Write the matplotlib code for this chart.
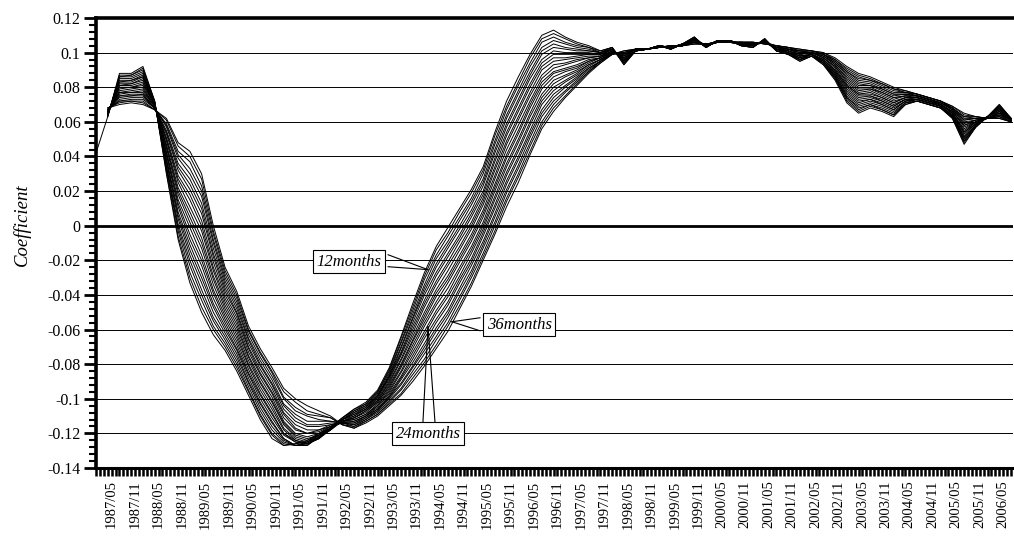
import numpy as np
import matplotlib
matplotlib.use("Agg")
import matplotlib.pyplot as plt
from matplotlib.ticker import MultipleLocator, FixedLocator

plt.rcParams['font.family'] = ['Liberation Serif', 'DejaVu Serif']

# month index counted from 1987/01, one sample every 3 months (1987/01 .. 2006/07)
months = list(range(0, 235, 3))

# rolling coefficients (x 1/1000) for estimation windows of 12..36 months
s12 = [42, 63, 88, 88, 92, 72, 30, -8, -33, -50,
       -63, -72, -84, -98, -112, -123, -127, -126, -124, -120,
       -116, -111, -106, -102, -95, -82, -64, -45, -27, -12,
       -1, 10, 21, 34, 54, 72, 86, 99, 110, 113,
       109, 106, 104, 101, 103, 93, 101, 102, 104, 102,
       105, 109, 103, 107, 107, 104, 103, 108, 101, 99,
       95, 98, 93, 84, 71, 65, 68, 66, 63, 70,
       72, 70, 68, 62, 47, 57, 63, 70, 62]
s13 = [None, 63, 87, 87, 91, 72, 31, -6, -30, -47,
       -60, -70, -82, -96, -110, -121, -127, -126, -125, -120,
       -117, -111, -106, -103, -96, -83, -65, -47, -29, -14,
       -4, 8, 19, 32, 52, 69, 83, 97, 108, 111,
       108, 105, 103, 101, 103, 93, 101, 102, 104, 102,
       105, 109, 103, 107, 107, 104, 103, 108, 101, 99,
       95, 98, 93, 85, 72, 66, 69, 67, 64, 70,
       72, 70, 68, 62, 48, 57, 63, 70, 62]
s14 = [None, 63, 86, 87, 90, 72, 33, -3, -27, -43,
       -58, -68, -80, -95, -109, -120, -126, -127, -125, -121,
       -117, -111, -107, -103, -96, -84, -67, -49, -31, -17,
       -6, 5, 16, 30, 49, 67, 81, 94, 106, 109,
       106, 104, 103, 100, 103, 94, 101, 102, 104, 102,
       105, 109, 103, 107, 107, 104, 103, 108, 101, 99,
       96, 98, 94, 85, 73, 67, 70, 67, 64, 71,
       72, 70, 68, 63, 49, 57, 63, 69, 62]
s15 = [None, 64, 86, 86, 89, 71, 34, -1, -23, -40,
       -55, -66, -78, -93, -107, -118, -125, -127, -126, -121,
       -117, -112, -107, -104, -97, -85, -68, -51, -34, -19,
       -9, 3, 14, 27, 47, 64, 78, 92, 103, 107,
       105, 103, 102, 100, 103, 94, 101, 102, 104, 102,
       105, 108, 103, 107, 107, 104, 103, 108, 101, 99,
       96, 98, 94, 86, 74, 68, 70, 68, 65, 71,
       72, 70, 68, 63, 49, 58, 63, 69, 62]
s16 = [None, 64, 85, 85, 88, 71, 35, 1, -20, -37,
       -53, -64, -76, -91, -105, -116, -124, -127, -127, -122,
       -117, -112, -108, -104, -98, -86, -70, -53, -36, -22,
       -11, 0, 12, 25, 44, 62, 76, 89, 101, 105,
       103, 102, 101, 100, 102, 94, 101, 102, 104, 102,
       105, 108, 103, 107, 107, 104, 104, 107, 101, 100,
       96, 99, 94, 86, 74, 69, 71, 69, 66, 71,
       73, 71, 69, 63, 50, 58, 63, 69, 62]
s17 = [None, 64, 84, 84, 87, 71, 37, 4, -17, -33,
       -50, -62, -74, -90, -103, -114, -123, -127, -127, -122,
       -118, -112, -108, -105, -98, -87, -71, -54, -38, -24,
       -13, -2, 9, 23, 42, 59, 73, 87, 99, 103,
       102, 101, 101, 100, 102, 95, 101, 102, 104, 102,
       105, 108, 103, 107, 107, 104, 104, 107, 102, 100,
       96, 99, 94, 87, 75, 70, 72, 70, 67, 72,
       73, 71, 69, 63, 51, 58, 63, 68, 62]
s18 = [None, 64, 83, 84, 86, 71, 38, 6, -14, -30,
       -47, -60, -72, -88, -102, -113, -123, -127, -126, -123,
       -117, -112, -109, -105, -99, -87, -73, -56, -40, -27,
       -16, -5, 7, 20, 39, 57, 71, 85, 96, 101,
       100, 100, 100, 99, 102, 95, 101, 102, 104, 103,
       105, 108, 103, 107, 107, 105, 104, 107, 102, 100,
       97, 99, 95, 87, 76, 71, 73, 70, 67, 72,
       73, 71, 69, 64, 51, 58, 63, 68, 61]
s19 = [None, 64, 83, 83, 86, 71, 39, 8, -11, -27,
       -45, -58, -71, -86, -100, -111, -121, -125, -126, -123,
       -117, -112, -109, -106, -99, -88, -74, -58, -43, -29,
       -18, -7, 5, 18, 37, 54, 68, 82, 94, 99,
       99, 99, 99, 99, 102, 95, 101, 102, 104, 103,
       105, 108, 104, 107, 107, 105, 104, 107, 102, 100,
       97, 99, 95, 88, 77, 72, 73, 71, 68, 72,
       73, 71, 69, 64, 52, 59, 63, 68, 61]
s20 = [None, 65, 82, 82, 85, 70, 41, 11, -8, -23,
       -42, -56, -69, -85, -98, -109, -120, -125, -126, -123,
       -118, -112, -110, -106, -100, -89, -75, -60, -45, -32,
       -21, -9, 2, 16, 34, 52, 66, 80, 92, 97,
       97, 98, 99, 99, 102, 96, 101, 102, 104, 103,
       105, 108, 104, 107, 107, 105, 104, 107, 102, 100,
       97, 99, 95, 88, 78, 73, 74, 72, 69, 73,
       73, 71, 69, 64, 53, 59, 63, 67, 61]
s21 = [None, 65, 81, 82, 84, 70, 42, 13, -5, -20,
       -39, -54, -67, -83, -97, -108, -120, -124, -126, -122,
       -118, -113, -110, -106, -101, -90, -77, -62, -47, -34,
       -23, -12, 0, 14, 32, 49, 63, 77, 90, 95,
       96, 97, 98, 98, 102, 96, 101, 102, 104, 103,
       105, 107, 104, 107, 107, 105, 104, 107, 102, 100,
       98, 99, 96, 89, 79, 74, 75, 72, 69, 73,
       73, 71, 70, 65, 54, 59, 63, 67, 61]
s22 = [None, 65, 81, 81, 83, 70, 43, 15, -1, -17,
       -37, -52, -65, -81, -95, -106, -118, -124, -126, -123,
       -117, -113, -111, -107, -101, -91, -78, -64, -50, -37,
       -26, -14, -2, 12, 29, 47, 61, 75, 87, 93,
       94, 96, 97, 98, 101, 96, 101, 102, 104, 103,
       105, 107, 104, 107, 107, 105, 104, 107, 102, 101,
       98, 99, 96, 89, 80, 75, 75, 73, 70, 73,
       74, 72, 70, 65, 54, 60, 63, 67, 61]
s23 = [None, 65, 80, 80, 82, 70, 45, 18, 2, -13,
       -34, -50, -63, -80, -93, -104, -117, -123, -125, -122,
       -117, -113, -111, -107, -102, -92, -80, -66, -52, -39,
       -29, -17, -5, 9, 27, 44, 58, 72, 85, 91,
       93, 95, 97, 98, 101, 97, 101, 102, 104, 103,
       105, 107, 104, 107, 107, 105, 104, 107, 102, 101,
       98, 99, 96, 90, 81, 76, 76, 74, 71, 74,
       74, 72, 70, 65, 55, 60, 63, 66, 61]
s24 = [None, 66, 79, 80, 81, 70, 46, 20, 5, -10,
       -31, -48, -61, -78, -91, -102, -115, -122, -124, -121,
       -117, -113, -111, -108, -102, -93, -81, -67, -54, -41,
       -31, -19, -7, 7, 24, 41, 55, 70, 83, 89,
       91, 93, 96, 97, 101, 97, 101, 102, 103, 103,
       104, 107, 104, 106, 106, 105, 104, 106, 102, 101,
       98, 99, 96, 90, 81, 76, 77, 74, 71, 74,
       74, 72, 70, 65, 56, 60, 62, 66, 61]
s25 = [None, 66, 78, 79, 80, 69, 47, 22, 8, -7,
       -29, -46, -59, -76, -90, -101, -114, -121, -123, -121,
       -117, -113, -112, -109, -103, -94, -82, -69, -56, -44,
       -33, -21, -9, 5, 22, 39, 53, 68, 81, 88,
       90, 92, 95, 97, 101, 97, 102, 102, 103, 103,
       104, 107, 104, 106, 106, 105, 105, 106, 103, 101,
       99, 100, 97, 91, 82, 77, 78, 75, 72, 74,
       74, 72, 70, 66, 57, 60, 62, 66, 61]
s26 = [None, 66, 77, 78, 79, 69, 49, 25, 11, -3,
       -26, -44, -57, -75, -88, -99, -113, -120, -122, -120,
       -117, -113, -112, -109, -104, -95, -84, -71, -58, -46,
       -36, -24, -12, 2, 20, 36, 50, 65, 79, 86,
       89, 91, 95, 97, 101, 98, 102, 102, 103, 103,
       104, 107, 104, 106, 106, 105, 105, 106, 103, 101,
       99, 100, 97, 92, 83, 78, 79, 76, 73, 75,
       74, 72, 70, 66, 58, 60, 62, 65, 61]
s27 = [None, 66, 77, 77, 78, 69, 50, 27, 15, 0,
       -24, -42, -55, -73, -86, -97, -111, -118, -120, -119,
       -116, -113, -113, -110, -104, -96, -85, -73, -61, -49,
       -39, -26, -14, 0, 17, 34, 48, 63, 76, 84,
       87, 90, 94, 97, 100, 98, 102, 102, 103, 103,
       104, 107, 104, 106, 106, 105, 105, 106, 103, 102,
       99, 100, 97, 92, 84, 79, 79, 77, 74, 75,
       75, 73, 70, 66, 58, 61, 62, 65, 61]
s28 = [None, 66, 76, 77, 77, 69, 51, 29, 18, 3,
       -21, -40, -53, -71, -85, -96, -109, -117, -120, -118,
       -116, -114, -113, -110, -105, -97, -87, -75, -63, -51,
       -41, -29, -16, -2, 15, 31, 45, 60, 74, 82,
       86, 89, 93, 96, 100, 98, 102, 102, 103, 103,
       104, 106, 104, 106, 106, 105, 105, 106, 103, 102,
       100, 100, 98, 93, 85, 80, 80, 77, 74, 75,
       75, 73, 71, 67, 59, 61, 62, 65, 61]
s29 = [None, 67, 75, 76, 76, 68, 53, 32, 21, 7,
       -18, -38, -51, -70, -83, -94, -108, -115, -118, -118,
       -115, -114, -114, -110, -106, -98, -88, -77, -65, -54,
       -44, -31, -19, -4, 12, 29, 43, 58, 72, 80,
       84, 88, 93, 96, 100, 99, 102, 102, 103, 103,
       104, 106, 104, 106, 106, 105, 105, 106, 103, 102,
       100, 100, 98, 93, 86, 81, 81, 78, 75, 76,
       75, 73, 71, 67, 60, 61, 62, 64, 61]
s30 = [None, 67, 75, 75, 76, 68, 54, 34, 24, 10,
       -16, -36, -50, -68, -81, -92, -106, -113, -116, -116,
       -115, -114, -114, -111, -106, -99, -89, -79, -68, -56,
       -46, -33, -21, -6, 10, 26, 40, 55, 70, 78,
       83, 87, 92, 96, 100, 99, 102, 102, 103, 103,
       104, 106, 105, 106, 106, 105, 105, 106, 103, 102,
       100, 100, 98, 94, 87, 82, 81, 79, 76, 76,
       75, 73, 71, 67, 61, 62, 62, 64, 61]
s31 = [None, 67, 74, 75, 75, 68, 55, 36, 27, 13,
       -13, -34, -48, -66, -80, -91, -104, -111, -115, -115,
       -114, -114, -115, -111, -107, -99, -91, -81, -70, -59,
       -49, -36, -23, -9, 7, 24, 38, 53, 67, 76,
       81, 86, 91, 95, 100, 99, 102, 102, 103, 104,
       104, 106, 105, 106, 106, 106, 105, 106, 103, 102,
       101, 100, 99, 94, 88, 83, 82, 79, 76, 76,
       75, 73, 71, 68, 61, 62, 62, 64, 60]
s32 = [None, 67, 73, 74, 74, 68, 57, 39, 30, 17,
       -10, -32, -46, -65, -78, -89, -103, -109, -113, -113,
       -113, -114, -115, -112, -107, -100, -92, -82, -72, -61,
       -51, -38, -26, -11, 5, 21, 35, 51, 65, 74,
       80, 85, 91, 95, 100, 100, 102, 102, 103, 104,
       104, 106, 105, 106, 106, 106, 105, 106, 104, 102,
       101, 100, 99, 95, 89, 84, 83, 80, 77, 77,
       75, 73, 71, 68, 62, 62, 62, 63, 60]
s33 = [None, 67, 72, 73, 73, 68, 58, 41, 33, 20,
       -8, -30, -44, -63, -76, -87, -100, -107, -110, -112,
       -113, -114, -116, -112, -108, -101, -94, -84, -74, -64,
       -53, -41, -28, -13, 2, 19, 33, 48, 63, 72,
       78, 84, 90, 95, 99, 100, 102, 102, 103, 104,
       104, 106, 105, 106, 106, 106, 106, 105, 104, 103,
       101, 101, 99, 95, 89, 85, 84, 81, 78, 77,
       76, 74, 72, 68, 63, 62, 62, 63, 60]
s34 = [None, 68, 72, 72, 72, 67, 59, 43, 37, 23,
       -5, -28, -42, -61, -74, -85, -99, -105, -109, -110,
       -111, -115, -116, -113, -109, -102, -95, -86, -77, -66,
       -56, -43, -30, -16, 0, 16, 30, 46, 60, 70,
       77, 83, 89, 95, 99, 100, 102, 102, 103, 104,
       104, 105, 105, 106, 106, 106, 106, 105, 104, 103,
       101, 101, 99, 96, 90, 86, 84, 82, 79, 77,
       76, 74, 72, 68, 63, 63, 62, 63, 60]
s35 = [None, 68, 71, 72, 71, 67, 61, 46, 40, 27,
       -3, -26, -40, -60, -73, -84, -96, -102, -107, -109,
       -111, -115, -117, -113, -109, -103, -97, -88, -79, -69,
       -58, -46, -33, -18, -3, 14, 28, 43, 58, 68,
       75, 82, 89, 94, 99, 101, 102, 102, 103, 104,
       104, 105, 105, 106, 106, 106, 106, 105, 104, 103,
       102, 101, 100, 96, 91, 87, 85, 82, 79, 78,
       76, 74, 72, 69, 64, 63, 62, 62, 60]
s36 = [None, 68, 70, 71, 70, 67, 62, 48, 43, 30,
       0, -24, -38, -58, -71, -82, -94, -100, -104, -107,
       -110, -115, -117, -114, -110, -104, -98, -90, -81, -71,
       -61, -48, -35, -20, -5, 11, 25, 41, 56, 66,
       74, 81, 88, 94, 99, 101, 102, 102, 103, 104,
       104, 105, 105, 106, 106, 106, 106, 105, 104, 103,
       102, 101, 100, 97, 92, 88, 86, 83, 80, 78,
       76, 74, 72, 69, 65, 63, 62, 62, 60]

windows = [12, 13, 14, 15, 16, 17, 18, 19, 20, 21, 22, 23, 24,
           25, 26, 27, 28, 29, 30, 31, 32, 33, 34, 35, 36]
series = [s12, s13, s14, s15, s16, s17, s18, s19, s20, s21, s22, s23, s24,
          s25, s26, s27, s28, s29, s30, s31, s32, s33, s34, s35, s36]

x_tick_labels = ['1987/05', '1987/11', '1988/05', '1988/11', '1989/05', '1989/11',
                 '1990/05', '1990/11', '1991/05', '1991/11', '1992/05', '1992/11',
                 '1993/05', '1993/11', '1994/05', '1994/11', '1995/05', '1995/11',
                 '1996/05', '1996/11', '1997/05', '1997/11', '1998/05', '1998/11',
                 '1999/05', '1999/11', '2000/05', '2000/11', '2001/05', '2001/11',
                 '2002/05', '2002/11', '2003/05', '2003/11', '2004/05', '2004/11',
                 '2005/05', '2005/11', '2006/05']
x_tick_months = list(range(4, 233, 6))

y_ticks = [-0.14, -0.12, -0.10, -0.08, -0.06, -0.04, -0.02, 0.0,
           0.02, 0.04, 0.06, 0.08, 0.10, 0.12]
y_tick_labels = ['-0.14', '-0.12', '-0.1', '-0.08', '-0.06', '-0.04', '-0.02', '0',
                 '0.02', '0.04', '0.06', '0.08', '0.1', '0.12']

W, H = 1014, 543
fig = plt.figure(figsize=(W / 100, H / 100), dpi=100)
ax = fig.add_axes([96 / W, 75 / H, 917 / W, 450 / H])

for w, s in zip(windows, series):
    assert len(s) == len(months), (w, len(s))
    y = np.array(s, dtype=float) / 1000.0
    ax.plot(months, y, color='black', lw=0.7, zorder=3)

ax.set_xlim(0, 234.5)
ax.set_ylim(-0.14, 0.12)

# gridlines
for v in y_ticks[1:-1]:
    if v == 0.0:
        ax.axhline(v, color='black', lw=2.0, zorder=4)
    else:
        ax.axhline(v, color='black', lw=0.7, zorder=1)

ax.spines['right'].set_visible(False)
ax.spines['left'].set_linewidth(2.6)
ax.spines['top'].set_linewidth(2.6)
ax.spines['bottom'].set_linewidth(2.2)

ax.set_yticks(y_ticks)
ax.set_yticklabels(y_tick_labels)
ax.yaxis.set_minor_locator(MultipleLocator(0.004))
ax.tick_params(axis='y', which='major', direction='out', length=9, width=2,
               labelsize=11.5, pad=2)
ax.tick_params(axis='y', which='minor', direction='out', length=5, width=1.5)

ax.set_xticks(x_tick_months)
ax.set_xticklabels(x_tick_labels, rotation=90, fontsize=10.5)
ax.xaxis.set_minor_locator(FixedLocator(list(range(0, 235, 1))))
ax.tick_params(axis='x', which='major', direction='out', length=6, width=1.8, pad=3)
ax.tick_params(axis='x', which='minor', direction='out', length=6, width=1.8)

fig.text(22 / W, 1 - 225 / H, 'Coefficient', rotation=90, style='italic',
         fontsize=13.5, ha='center', va='center')

def callout(text, center, anchors, target):
    for a in anchors:
        ax.plot([a[0], target[0]], [a[1], target[1]], color='black', lw=0.8, zorder=6)
    ax.text(center[0], center[1], text, style='italic', fontsize=12,
            ha='center', va='center', zorder=7,
            bbox=dict(boxstyle='square,pad=0.22', fc='white', ec='black', lw=0.8))

callout('12months', (64.7, -0.0208), [(74.7, -0.0168), (74.7, -0.0237)], (84.9, -0.0254))
callout('36months', (108.2, -0.0572), [(98.2, -0.0532), (98.2, -0.0607)], (91.0, -0.0555))
callout('24months', (84.9, -0.1202), [(83.6, -0.1139), (86.7, -0.1139)], (84.9, -0.0584))

fig.savefig('out.png', dpi=100)
